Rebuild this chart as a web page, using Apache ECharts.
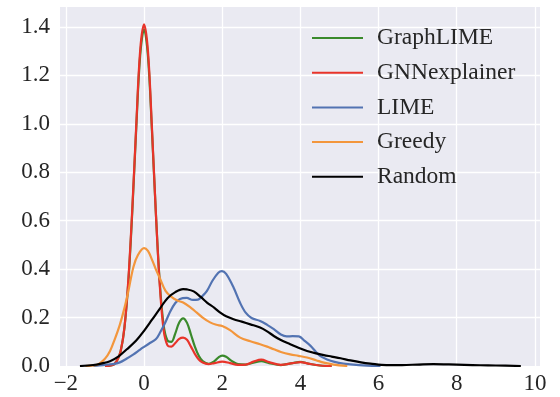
<!DOCTYPE html>
<html>
<head>
<meta charset="utf-8">
<script src="https://cdn.jsdelivr.net/npm/echarts@6/dist/echarts.min.js"></script>
<style>html,body{margin:0;padding:0;background:#fff;}#c{width:560px;height:397px;}</style>
</head>
<body>
<div id="c"></div>
<script>
var seriesNames = ['GraphLIME', 'GNNexplainer', 'LIME', 'Greedy', 'Random'];
var colors = ['#3a8a2c', '#e8342a', '#5273b2', '#f3963c', '#000000'];

var graphLIME = [[-1.0,0],[-0.8,0.004],[-0.7,0.02],[-0.6,0.06],[-0.5,0.16],[-0.4,0.35],[-0.3,0.64],[-0.2,0.98],[-0.1,1.28],[0,1.39],[0.1,1.28],[0.2,0.98],[0.3,0.64],[0.4,0.35],[0.5,0.17],[0.6,0.105],[0.7,0.10],[0.8,0.135],[0.9,0.18],[1.0,0.197],[1.1,0.178],[1.2,0.13],[1.3,0.08],[1.4,0.042],[1.5,0.02],[1.65,0.009],[1.8,0.02],[1.9,0.035],[2.0,0.043],[2.1,0.038],[2.25,0.02],[2.4,0.008],[2.6,0.006],[2.8,0.014],[3.0,0.02],[3.2,0.012],[3.5,0.004],[3.8,0.012],[4.0,0.017],[4.2,0.01],[4.5,0.002],[4.8,0]];
var gnnExplainer = [[-1.0,0],[-0.8,0.004],[-0.7,0.02],[-0.6,0.06],[-0.5,0.16],[-0.4,0.36],[-0.3,0.65],[-0.2,0.99],[-0.1,1.30],[0,1.41],[0.1,1.30],[0.2,0.99],[0.3,0.64],[0.4,0.34],[0.5,0.15],[0.6,0.085],[0.7,0.08],[0.8,0.095],[0.9,0.112],[1.0,0.117],[1.1,0.108],[1.2,0.08],[1.3,0.05],[1.4,0.027],[1.5,0.014],[1.65,0.008],[1.8,0.012],[2.0,0.018],[2.2,0.012],[2.4,0.005],[2.6,0.006],[2.8,0.018],[3.0,0.026],[3.2,0.016],[3.5,0.005],[3.8,0.012],[4.0,0.016],[4.2,0.01],[4.5,0.002],[4.8,0]];
var lime = [[-1.3,0],[-1.05,0.004],[-0.8,0.008],[-0.62,0.015],[-0.45,0.03],[-0.27,0.048],[-0.1,0.068],[0,0.079],[0.15,0.095],[0.3,0.11],[0.41,0.138],[0.55,0.182],[0.67,0.225],[0.8,0.26],[0.92,0.277],[1.09,0.281],[1.25,0.273],[1.38,0.274],[1.5,0.29],[1.61,0.31],[1.75,0.352],[1.9,0.385],[1.99,0.392],[2.1,0.38],[2.29,0.324],[2.46,0.26],[2.6,0.22],[2.75,0.198],[2.97,0.186],[3.15,0.17],[3.32,0.152],[3.5,0.13],[3.65,0.122],[3.8,0.123],[3.96,0.122],[4.1,0.105],[4.26,0.083],[4.4,0.058],[4.51,0.041],[4.7,0.026],[4.85,0.018],[5.1,0.01],[5.5,0.004],[6.05,0]];
var greedy = [[-1.5,0],[-1.2,0.005],[-1.0,0.03],[-0.87,0.062],[-0.75,0.11],[-0.62,0.17],[-0.5,0.24],[-0.4,0.31],[-0.27,0.41],[-0.15,0.46],[0,0.487],[0.1,0.475],[0.2,0.44],[0.3,0.40],[0.41,0.36],[0.55,0.31],[0.7,0.285],[0.85,0.27],[1.0,0.262],[1.2,0.24],[1.35,0.22],[1.5,0.20],[1.69,0.18],[1.85,0.17],[2.0,0.165],[2.2,0.148],[2.46,0.117],[2.72,0.102],[2.97,0.09],[3.15,0.08],[3.32,0.069],[3.5,0.058],[3.74,0.048],[3.95,0.042],[4.17,0.035],[4.4,0.024],[4.6,0.014],[4.85,0.006],[5.2,0]];
var random = [[-1.64,0],[-1.3,0.004],[-1.1,0.01],[-0.87,0.02],[-0.65,0.04],[-0.44,0.069],[-0.2,0.105],[0,0.145],[0.2,0.19],[0.41,0.238],[0.6,0.28],[0.8,0.305],[1.0,0.317],[1.1,0.316],[1.27,0.308],[1.45,0.285],[1.61,0.262],[1.8,0.24],[1.95,0.22],[2.1,0.205],[2.29,0.193],[2.5,0.183],[2.72,0.172],[2.97,0.159],[3.15,0.143],[3.32,0.124],[3.5,0.107],[3.74,0.09],[3.95,0.075],[4.17,0.062],[4.4,0.052],[4.6,0.045],[4.8,0.039],[5.03,0.032],[5.28,0.023],[5.55,0.015],[5.79,0.01],[6.2,0.004],[6.6,0.004],[7.0,0.006],[7.4,0.008],[7.8,0.007],[8.2,0.005],[8.6,0.003],[9.0,0.002],[9.64,0]];
var seriesData = [graphLIME, gnnExplainer, lime, greedy, random];

var xMin = -2.15, xMax = 10.13, yMin = 0, yMax = 1.482;
var FONT = 'Liberation Serif';
var TEXT = '#262626';

var chart = echarts.init(document.getElementById('c'), null, {renderer: 'canvas'});
var option = {
  animation: false,
  backgroundColor: '#ffffff',
  grid: {left: 60, right: 20, top: 7, bottom: 31, show: true, backgroundColor: '#eaeaf2', borderWidth: 0},
  legend: {
    orient: 'vertical', left: 307, top: 21, itemWidth: 51, itemHeight: 2, itemGap: 10.7,
    icon: 'rect',
    data: seriesNames,
    lineStyle: {width: 2.2},
    textStyle: {fontFamily: FONT, fontSize: 23.5, color: TEXT, lineHeight: 22, padding: [0, 0, 0, 9]}
  },
  xAxis: {
    type: 'value', min: xMin, max: xMax, minInterval: 2, maxInterval: 2,
    axisLine: {show: false}, axisTick: {show: false},
    splitLine: {show: true, showMinLine: false, showMaxLine: false, lineStyle: {color: '#ffffff', width: 1.3}},
    axisLabel: {
      showMinLabel: false, showMaxLabel: false, margin: 6,
      fontFamily: FONT, fontSize: 23, color: TEXT,
      formatter: function (v) { return Math.abs(v % 2) > 1e-6 ? '' : String(v).replace('-', '\u2212'); }
    }
  },
  yAxis: {
    type: 'value', min: yMin, max: yMax, interval: 0.2,
    axisLine: {show: false}, axisTick: {show: false},
    splitLine: {show: true, showMinLine: false, showMaxLine: false, lineStyle: {color: '#ffffff', width: 1.3}},
    axisLabel: {
      showMaxLabel: false, margin: 10,
      fontFamily: FONT, fontSize: 23, color: TEXT,
      formatter: function (v) { return v.toFixed(1); }
    }
  },
  series: seriesNames.map(function (n, i) {
    return {
      name: n, type: 'line', data: seriesData[i], smooth: 0.35, symbol: 'none',
      color: colors[i],
      lineStyle: {color: colors[i], width: 2.2}, z: 2 + i
    };
  })
};
chart.setOption(option);
</script>
</body>
</html>
